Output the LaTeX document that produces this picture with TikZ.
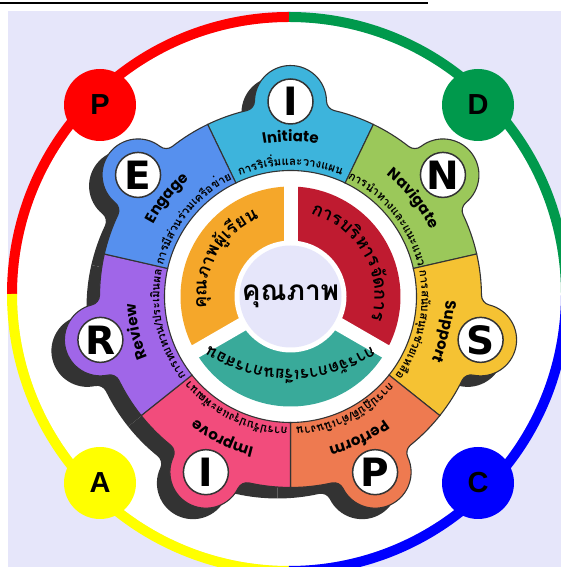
\documentclass[tikz,border=0pt]{standalone}
\usepackage{fontspec}
\usetikzlibrary{calc,decorations.text}
\newfontfamily\thaifont[Script=Thai]{Loma}
\newfontfamily\engfont{Poppins}
\newfontfamily\letfont{DejaVu Sans}
\newfontfamily\cornfont{Liberation Sans}
\definecolor{cInit}{HTML}{3DB4DC}
\definecolor{cNav}{HTML}{9BC85A}
\definecolor{cSup}{HTML}{F5C233}
\definecolor{cPerf}{HTML}{EE7A50}
\definecolor{cImp}{HTML}{F24C7C}
\definecolor{cRev}{HTML}{A066E8}
\definecolor{cEng}{HTML}{5690EE}
\definecolor{cPieO}{HTML}{F5A72A}
\definecolor{cPieR}{HTML}{BF1B30}
\definecolor{cPieT}{HTML}{39AA9A}
\definecolor{lav}{HTML}{E6E6FA}
\definecolor{shad}{HTML}{333333}
\definecolor{rRed}{HTML}{FF0000}
\definecolor{rGreen}{HTML}{00994C}
\definecolor{rBlue}{HTML}{0000FF}
\definecolor{rYellow}{HTML}{FFFF00}
\newcommand\segoutline{(64.286:126) -- (64.286:191) arc[start angle=64.286, end angle=76.77, radius=191] arc[start angle=256.77, end angle=180.83, radius=10] arc[start angle=0.83, end angle=179.17, radius=36] arc[start angle=-0.83, end angle=-76.77, radius=10] arc[start angle=103.23, end angle=115.714, radius=191] -- (115.714:126) arc[start angle=115.714, end angle=64.286, radius=126] -- cycle}
\newcommand\engfmt{\engfont\bfseries\fontsize{15}{16}\selectfont}
\newcommand\thsub{\thaifont\bfseries\fontsize{11.5}{13}\selectfont}
\newcommand\pietxt{\thaifont\bfseries\fontsize{18}{19}\selectfont}
\newcommand\pietxtb{\thaifont\bfseries\fontsize{16.5}{18}\selectfont}
\newcommand\segtext[3]{%
  \path[decorate, decoration={text along path, text align=center, text={|\engfmt|#2}}]
    ($(O)+(#1+40:155)$) arc[start angle=#1+40, end angle=#1-40, radius=155];
  \path[decorate, decoration={text along path, text align=center, text={|\thsub|#3}}]
    ($(O)+(#1+45:131)$) arc[start angle=#1+45, end angle=#1-45, radius=131];
}
\tikzset{
  lettercirc/.style={circle, fill=white, draw=shad, line width=1.5, minimum size=45, inner sep=0,
    font=\letfont\bfseries\fontsize{39}{39}\selectfont},
  corner/.style={circle, minimum size=72, inner sep=0,
    font=\cornfont\bfseries\fontsize{29}{29}\selectfont},
  ringarc/.style={line width=10},
}
\begin{document}
\begin{tikzpicture}[x=1pt,y=1pt]
\useasboundingbox (0,0) rectangle (561,567);
\coordinate (O) at (290.5,270.5);
\coordinate (C) at (289,273);
\coordinate (T) at (290.5,346.5);
\fill[lav] (8,0) rectangle (561,556);
\draw[line width=2.5] (0,564) -- (428,564);
% outer ring
\fill[white] (C) circle[radius=272];
\draw[ringarc, rRed] ($(C)+(90:277)$) arc[start angle=90, end angle=180, radius=277];
\draw[ringarc, rYellow] ($(C)+(180:277)$) arc[start angle=180, end angle=270, radius=277];
\draw[ringarc, rBlue] ($(C)+(270:277)$) arc[start angle=270, end angle=360, radius=277];
\draw[ringarc, rGreen] ($(C)+(0:277)$) arc[start angle=0, end angle=90, radius=277];
\node[corner, fill=rRed] (cP) at (100,462) {P};
\node[corner, fill=rGreen] (cD) at (478,462) {D};
\node[corner, fill=rYellow] (cA) at (100,84) {A};
\node[corner, fill=rBlue] (cC) at (478,84) {C};
% shadows
\foreach \p in {90,38.571,-12.857,-64.286,-115.714,-167.143,141.429}{
  \begin{scope}[shift={(O)}, shift={(-13,-11)}, rotate=\p-90]
    \fill[shad] \segoutline;
  \end{scope}}
\fill[white] (O) circle[radius=126];
% segments
\foreach \p/\c in {90/cInit,38.571/cNav,-12.857/cSup,-64.286/cPerf,-115.714/cImp,-167.143/cRev,141.429/cEng}{
  \begin{scope}[shift={(O)}, rotate=\p-90]
    \filldraw[fill=\c, draw=shad, line width=1.1] \segoutline;
  \end{scope}}
% letter circles
\node[lettercirc] (lI) at ($(O)+(90:195)$) {I};
\node[lettercirc] (lN) at ($(O)+(38.571:195)$) {N};
\node[lettercirc] (lS) at ($(O)+(-12.857:195)$) {S};
\node[lettercirc] (lP) at ($(O)+(-64.286:195)$) {P};
\node[lettercirc] (lI2) at ($(O)+(-115.714:195)$) {I};
\node[lettercirc] (lR) at ($(O)+(-167.143:195)$) {R};
\node[lettercirc] (lE) at ($(O)+(141.429:195)$) {E};
% segment texts
\segtext{90}{Initiate}{{การ}{ริ}{เริ่ม}{และ}{วาง}{แผน}}
\segtext{38.571}{Navigate}{{การ}{นำ}{ทาง}{และ}{แนะ}{แนว}}
\segtext{-12.857}{Support}{{การ}{สนับ}{สนุน}{ช่วย}{เหลือ}}
\segtext{-64.286}{Perform}{{การ}{ปฏิ}{บัติ}/{ดำ}{เนิน}{งาน}}
\segtext{-115.714}{Improve}{{การ}{ปรับ}{ปรุง}{และ}{พัฒ}{นา}}
\segtext{-167.143}{Review}{{การ}{ทบ}{ทวน}/{ประ}{เมิน}{ผล}}
\segtext{141.429}{Engage}{{การ}{มี}{ส่วน}{ร่วม}{เครือ}{ข่าย}}
% inner pie
\fill[cPieR] (O) -- ($(O)+(-30:110)$) arc[start angle=-30, end angle=90, radius=110] -- cycle;
\fill[cPieO] (O) -- ($(O)+(90:110)$) arc[start angle=90, end angle=210, radius=110] -- cycle;
\fill[cPieT] (O) -- ($(O)+(210:110)$) arc[start angle=210, end angle=330, radius=110] -- cycle;
\foreach \a in {90,210,330}{\draw[white, line width=14] (O) -- ($(O)+(\a:113)$);}
\fill[white] (O) circle[radius=56];
\node[circle, fill=lav, minimum size=102, inner sep=0, font=\thaifont\bfseries\fontsize{28}{30}\selectfont] (centre) at (O) {คุณภาพ};
\path[decorate, decoration={text along path, text align=center, text={|\pietxt|{การ}{บริ}{หาร}{จัด}{การ}}}]
  ($(O)+(105:84)$) arc[start angle=105, end angle=-45, radius=84];
\path[decorate, decoration={text along path, text align=center, text={|\pietxt|{คุณ}{ภาพ}{ผู้}{เรียน}}}]
  ($(O)+(225:84)$) arc[start angle=225, end angle=75, radius=84];
\path[decorate, decoration={text along path, text align=center, text={|\pietxtb|{การ}{จัด}{การ}{เรียน}{การ}{สอน}}}]
  ($(T)+(310:149)$) arc[start angle=310, end angle=230, radius=149];
\end{tikzpicture}
\end{document}
